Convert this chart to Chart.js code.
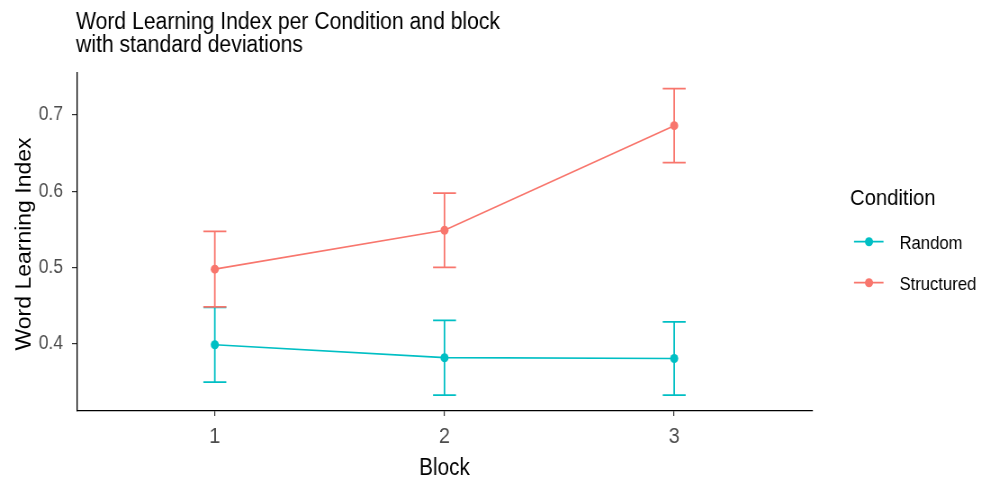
<!DOCTYPE html>
<html>
<head>
<meta charset="utf-8">
<script src="https://cdn.jsdelivr.net/npm/chart.js@4.4.1/dist/chart.umd.min.js"></script>
<style>
  html, body { margin: 0; padding: 0; background: #fff; overflow: hidden; }
  #c { display: block; transform-origin: 0 0; }
</style>
</head>
<body>
<canvas id="c"></canvas>
<script>
// ---- data ----
const blocks = [1, 2, 3];
const conditions = ['Random', 'Structured'];
const randomMean = [0.399, 0.382, 0.381];
const randomSD = [0.049, 0.049, 0.048];
const structuredMean = [0.498, 0.549, 0.686];
const structuredSD = [0.0495, 0.0487, 0.0485];
const xTickValues = [1, 2, 3];
const yTickValues = [0.4, 0.5, 0.6, 0.7];
const titleLines = ['Word Learning Index per Condition and block', 'with standard deviations'];

// ---- style ----
const SQUASH = 0.9;                 // horizontal compression of the whole canvas
const H = 477;
const W = Math.round(983 / SQUASH);
const sx = v => v / SQUASH;         // page x -> canvas x
const FONT = '"Liberation Sans", Arial, Helvetica, sans-serif';
const colors = { Random: '#00BFC4', Structured: '#F8766D' };

const canvas = document.getElementById('c');
canvas.width = W;
canvas.height = H;
canvas.style.width = W + 'px';
canvas.style.height = H + 'px';
canvas.style.transform = 'scaleX(' + SQUASH + ')';

const series = [
  { name: 'Random', mean: randomMean, sd: randomSD },
  { name: 'Structured', mean: structuredMean, sd: structuredSD }
];

// error bars (mean ± sd, cap width 0.1 block units)
const errorBars = {
  id: 'errorBars',
  beforeDatasetsDraw(chart) {
    const { ctx, scales: { x, y } } = chart;
    ctx.save();
    ctx.lineWidth = 1.8;
    series.forEach(s => {
      ctx.strokeStyle = colors[s.name];
      blocks.forEach((b, i) => {
        const px = x.getPixelForValue(b);
        const l = x.getPixelForValue(b - 0.05);
        const r = x.getPixelForValue(b + 0.05);
        const top = y.getPixelForValue(s.mean[i] + s.sd[i]);
        const bot = y.getPixelForValue(s.mean[i] - s.sd[i]);
        ctx.beginPath();
        ctx.moveTo(l, top); ctx.lineTo(r, top);
        ctx.moveTo(px, top); ctx.lineTo(px, bot);
        ctx.moveTo(l, bot); ctx.lineTo(r, bot);
        ctx.stroke();
      });
    });
    ctx.restore();
  }
};

// title, axis titles and legend
const annotations = {
  id: 'annotations',
  afterDraw(chart) {
    const { ctx, chartArea } = chart;
    ctx.save();
    ctx.fillStyle = '#000';
    ctx.textBaseline = 'alphabetic';

    ctx.font = '23.5px ' + FONT;
    ctx.textAlign = 'left';
    ctx.fillText(titleLines[0], sx(76), 29);
    ctx.fillText(titleLines[1], sx(76), 52);

    ctx.textAlign = 'center';
    ctx.font = '23px ' + FONT;
    ctx.fillText('Block', (chartArea.left + chartArea.right) / 2, 475);

    ctx.save();
    ctx.translate(sx(31), 244);
    ctx.rotate(-Math.PI / 2);
    ctx.fillText('Word Learning Index', 0, 0);
    ctx.restore();

    ctx.textAlign = 'left';
    ctx.font = '22.5px ' + FONT;
    ctx.fillText('Condition', sx(850), 205);

    const rows = [241.7, 282.7];
    ctx.font = '18.5px ' + FONT;
    conditions.forEach((name, i) => {
      const yy = rows[i];
      ctx.strokeStyle = colors[name];
      ctx.fillStyle = colors[name];
      ctx.lineWidth = 1.8;
      ctx.beginPath();
      ctx.moveTo(sx(854), yy); ctx.lineTo(sx(883.5), yy);
      ctx.stroke();
      ctx.beginPath();
      ctx.arc(sx(869), yy, 4.5, 0, Math.PI * 2);
      ctx.fill();
      ctx.fillStyle = '#000';
      ctx.fillText(name, sx(899.5), yy + 6.8);
    });
    ctx.restore();
  }
};

new Chart(canvas, {
  type: 'line',
  data: {
    datasets: series.map(s => ({
      label: s.name,
      data: blocks.map((b, i) => ({ x: b, y: s.mean[i] })),
      borderColor: colors[s.name],
      backgroundColor: colors[s.name],
      borderWidth: 1.7,
      pointRadius: 4.5,
      pointBorderWidth: 0,
      pointBackgroundColor: colors[s.name],
      tension: 0,
      fill: false
    }))
  },
  options: {
    responsive: false,
    animation: false,
    devicePixelRatio: 1,
    layout: { padding: { left: 0, right: W - sx(812), top: 73, bottom: 0 } },
    plugins: { legend: { display: false }, title: { display: false }, tooltip: { enabled: false } },
    scales: {
      x: {
        type: 'linear',
        min: 0.4,
        max: 3.6,
        afterBuildTicks: s => { s.ticks = xTickValues.map(v => ({ value: v })); },
        afterFit: s => { s.height = 66; },
        grid: { drawOnChartArea: false, tickLength: 5, color: '#333', lineWidth: 1.2 },
        border: { color: '#000', width: 1.3 },
        ticks: { color: '#4D4D4D', font: { family: FONT, size: 22 }, padding: 8, maxRotation: 0 }
      },
      y: {
        type: 'linear',
        min: 0.3122,
        max: 0.755,
        afterBuildTicks: s => { s.ticks = yTickValues.map(v => ({ value: v })); },
        afterFit: s => { s.width = sx(77); },
        grid: { drawOnChartArea: false, tickLength: sx(5), color: '#333', lineWidth: 1.2 },
        border: { color: '#000', width: 1.3 },
        ticks: { color: '#4D4D4D', font: { family: FONT, size: 19.5 }, padding: 10, callback: v => v.toFixed(1) }
      }
    }
  },
  plugins: [errorBars, annotations]
});
</script>
</body>
</html>
